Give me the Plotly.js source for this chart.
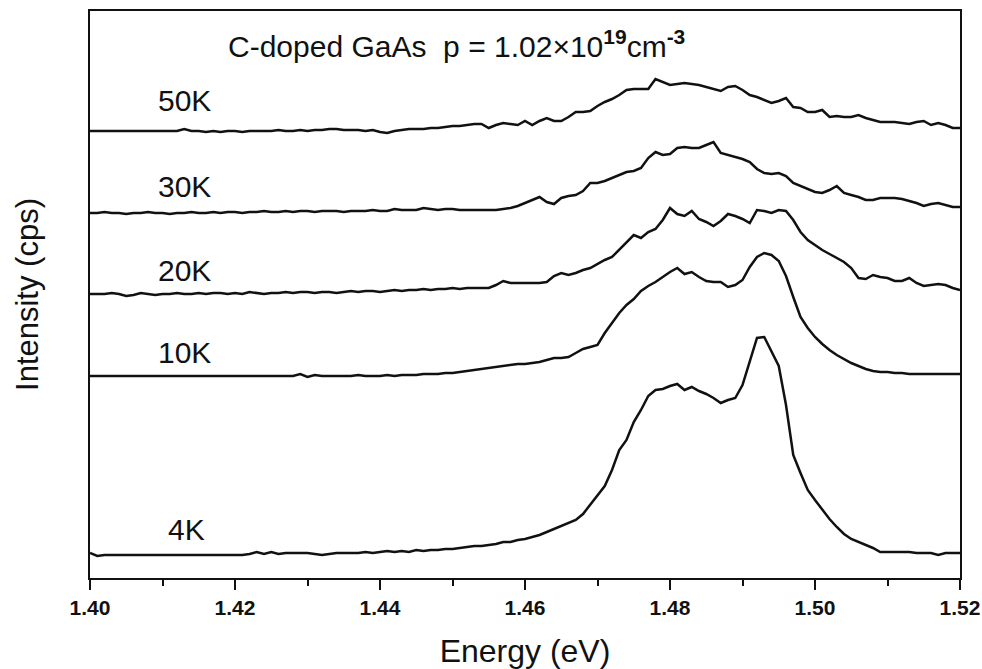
<!DOCTYPE html>
<html>
<head>
<meta charset="utf-8">
<script src="https://cdn.plot.ly/plotly-3.0.1.min.js"></script>
<style>
  html, body { margin: 0; padding: 0; background: #fff; }
  #chart { width: 982px; height: 669px; }
</style>
</head>
<body>
<div id="chart"></div>
<script>
// Photon energy (eV)
const energy = [
  1.400,1.401,1.402,1.403,1.404,1.405,1.406,1.407,1.408,1.409,
  1.410,1.411,1.412,1.413,1.414,1.415,1.416,1.417,1.418,1.419,
  1.420,1.421,1.422,1.423,1.424,1.425,1.426,1.427,1.428,1.429,
  1.430,1.431,1.432,1.433,1.434,1.435,1.436,1.437,1.438,1.439,
  1.440,1.441,1.442,1.443,1.444,1.445,1.446,1.447,1.448,1.449,
  1.450,1.451,1.452,1.453,1.454,1.455,1.456,1.457,1.458,1.459,
  1.460,1.461,1.462,1.463,1.464,1.465,1.466,1.467,1.468,1.469,
  1.470,1.471,1.472,1.473,1.474,1.475,1.476,1.477,1.478,1.479,
  1.480,1.481,1.482,1.483,1.484,1.485,1.486,1.487,1.488,1.489,
  1.490,1.491,1.492,1.493,1.494,1.495,1.496,1.497,1.498,1.499,
  1.500,1.501,1.502,1.503,1.504,1.505,1.506,1.507,1.508,1.509,
  1.510,1.511,1.512,1.513,1.514,1.515,1.516,1.517,1.518,1.519,
  1.520
];

// Intensity (arb. units, curves vertically offset as in the figure)
const int4K = [
  25,22,23,23,23,23,23,23,23,23,
  23,23,23,23,23,23,23,23,23,23,
  23,23,24,26,24,26,24,25,25,25,
  25,24,23,24,25,25,25,25,26,25,
  26,27,26,27,26,28,27,28,28,29,
  29,30,31,32,32,33,34,36,36,38,
  39,41,43,46,49,52,55,58,64,73,
  83,92,108,128,138,156,168,182,188,189,
  192,194,188,191,187,184,180,175,178,180,
  193,216,240,241,226,212,173,123,105,88,
  78,68,59,51,44,39,36,33,30,26,
  26,26,26,26,25,25,25,23,25,25,
  25
];

const int10K = [
  202,202,202,202,202,202,202,202,202,202,
  202,202,202,202,202,202,202,202,202,202,
  202,202,202,202,202,202,202,202,202,204,
  201,203,202,202,202,202,202,203,202,202,
  202,203,202,203,203,203,204,204,204,205,
  205,206,207,208,209,210,211,212,213,214,
  214,215,216,218,220,220,221,225,229,231,
  233,245,255,265,273,279,287,292,296,301,
  306,310,304,306,301,297,296,296,291,293,
  298,311,321,325,323,317,302,281,261,250,
  241,234,228,223,219,215,212,209,207,206,
  206,205,205,204,204,204,204,204,204,204,
  204
];

const int20K = [
  284,284,284,285,284,282,283,285,284,283,
  284,284,285,284,284,285,284,285,285,284,
  285,284,286,285,284,285,285,286,285,286,
  286,285,286,286,285,286,287,286,287,287,
  286,287,288,287,288,288,289,288,289,289,
  290,289,290,290,290,290,293,297,295,295,
  295,295,295,296,302,305,303,305,308,310,
  314,318,321,328,335,343,340,346,349,358,
  370,364,362,367,359,356,352,357,364,362,
  359,355,368,367,365,368,367,358,346,338,
  333,328,324,320,316,310,300,299,303,301,
  300,297,297,300,295,292,293,294,293,290,
  288
];

const int30K = [
  365,365,366,365,365,364,365,365,366,365,
  365,364,365,365,366,365,365,366,365,366,
  366,365,366,366,367,366,366,367,366,367,
  367,366,367,367,367,366,367,367,367,368,
  367,367,369,368,368,368,370,369,368,369,
  369,368,368,368,368,368,368,369,370,372,
  375,378,381,376,374,380,382,383,387,395,
  395,397,400,403,406,407,410,420,426,423,
  424,430,431,430,430,433,436,425,423,421,
  419,416,409,405,404,405,402,395,392,389,
  386,385,388,392,385,383,381,378,378,380,
  380,380,379,377,375,372,374,375,373,371,
  371
];

const int50K = [
  447,447,447,447,447,447,447,447,447,447,
  447,447,447,449,447,447,446,447,446,447,
  447,446,447,447,447,447,448,447,447,448,
  447,448,448,449,449,448,448,448,447,448,
  446,445,447,448,449,449,449,450,450,451,
  452,452,453,454,454,450,453,455,454,453,
  457,453,457,460,457,457,461,466,466,467,
  472,476,479,483,488,489,489,489,499,496,
  493,494,495,494,493,491,489,487,491,492,
  488,483,481,478,475,477,480,471,470,466,
  466,468,461,462,461,461,463,460,458,456,
  456,456,455,454,456,457,453,455,453,450,
  450
];

const seriesNames = ["4K", "10K", "20K", "30K", "50K"];
const seriesData = [int4K, int10K, int20K, int30K, int50K];
const xTickVals = [1.40, 1.42, 1.44, 1.46, 1.48, 1.50, 1.52];
const xTickText = ["1.40", "1.42", "1.44", "1.46", "1.48", "1.50", "1.52"];

const FONT = "Liberation Sans, Arial, Helvetica, sans-serif";

const traces = seriesData.map((ys, i) => ({
  type: "scatter",
  mode: "lines",
  name: seriesNames[i],
  x: energy,
  y: ys,
  line: { color: "#111", width: 2.5 },
  hoverinfo: "skip"
}));

// label positions (energy, intensity)
const labelPos = [
  [1.4133, 49],
  [1.4131, 226],
  [1.4131, 308],
  [1.4131, 392],
  [1.4131, 478]
];

const annotations = seriesNames.map((n, i) => ({
  x: labelPos[i][0], y: labelPos[i][1], xref: "x", yref: "y",
  text: n, showarrow: false, xanchor: "center", yanchor: "middle",
  font: { family: FONT, size: 30, color: "#111" }
}));

annotations.push({
  x: 1.4505, y: 534, xref: "x", yref: "y",
  text: "C-doped GaAs&nbsp;&nbsp;p = 1.02×10<sup><b>19</b></sup>cm<sup><b>-3</b></sup>",
  showarrow: false, xanchor: "center", yanchor: "middle",
  font: { family: FONT, size: 30, color: "#111" }
});

const layout = {
  width: 982, height: 669,
  margin: { l: 90, r: 22, t: 11, b: 91 },
  paper_bgcolor: "#fff", plot_bgcolor: "#fff",
  showlegend: false,
  hovermode: false,
  xaxis: {
    range: [1.40, 1.52],
    tickvals: xTickVals, ticktext: xTickText,
    ticks: "outside", ticklen: 10, tickwidth: 2, tickcolor: "#111",
    minor: { dtick: 0.01, tick0: 1.40, ticks: "outside", ticklen: 6, tickwidth: 2, tickcolor: "#111" },
    showline: true, linecolor: "#111", linewidth: 2, mirror: true,
    showgrid: false, zeroline: false,
    tickfont: { family: FONT, size: 21, color: "#111", weight: "bold" },
    title: { text: "Energy (eV)", font: { family: FONT, size: 32, color: "#111" }, standoff: 22 }
  },
  yaxis: {
    range: [0, 567],
    showticklabels: false, ticks: "",
    showline: true, linecolor: "#111", linewidth: 2, mirror: true,
    showgrid: false, zeroline: false,
    title: { text: "Intensity (cps)", font: { family: FONT, size: 31, color: "#111" }, standoff: 40 }
  },
  annotations: annotations
};

Plotly.newPlot("chart", traces, layout, { displayModeBar: false, staticPlot: true });
</script>
</body>
</html>
